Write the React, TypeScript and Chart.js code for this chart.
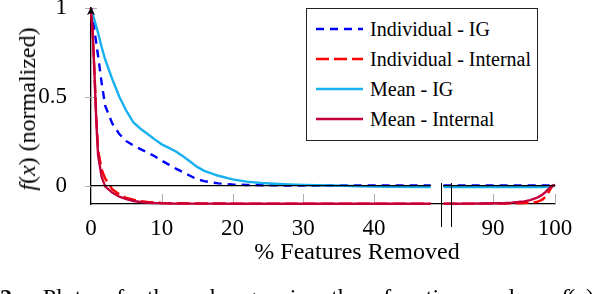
import React, { useEffect, useRef } from "react";
import { Chart, registerables } from "chart.js";

Chart.register(...registerables);

const FONT = "'Liberation Serif', Tinos, 'Times New Roman', 'DejaVu Serif', serif";

// ---- series meta ----
const seriesNames = ["Individual - IG", "Individual - Internal", "Mean - IG", "Mean - Internal"];
const seriesColors = ["#0000ff", "#ff0000", "#18b0ee", "#c4003c"];
const seriesDashes: number[][] = [[8, 6], [13, 5], [], []];
const seriesWidths = [2.4, 2.4, 2.4, 2.4];

// ---- axis settings ----
const yMin = -0.104;
const yMax = 1;
const yTicks = [0, 0.5, 1];
const leftXMin = 0;
const leftXMax = 49.6;
const leftXTicks = [0, 10, 20, 30, 40];
const rightXMin = 81.9;
const rightXMax = 100;
const rightXTicks = [90, 100];

// ---- data: left part (0 – 48 %) ----
const leftX = [0, 0.25, 0.5, 0.75, 1, 1.5, 2, 3, 4, 5, 6, 7, 8, 9, 10, 11, 12, 13, 14, 15, 16, 17, 18, 20, 22, 24, 26, 28, 30, 34, 38, 42, 48];
const indivIGLeft = [1, 0.94, 0.87, 0.8, 0.73, 0.58, 0.45, 0.35, 0.29, 0.25, 0.225, 0.205, 0.185, 0.165, 0.14, 0.118, 0.095, 0.075, 0.055, 0.035, 0.025, 0.018, 0.012, 0.006, 0.003, 0.002, 0.001, 0, 0, 0, 0, 0, 0];
const indivInternalLeft = [1, 0.86, 0.63, 0.38, 0.2, 0.09, 0.04, -0.02, -0.05, -0.07, -0.08, -0.088, -0.093, -0.096, -0.098, -0.099, -0.1, -0.1, -0.101, -0.101, -0.101, -0.101, -0.101, -0.102, -0.102, -0.102, -0.102, -0.102, -0.102, -0.102, -0.102, -0.102, -0.102];
const meanIGLeft = [1, 0.965, 0.93, 0.895, 0.86, 0.78, 0.71, 0.6, 0.5, 0.42, 0.355, 0.32, 0.29, 0.26, 0.232, 0.212, 0.192, 0.165, 0.135, 0.105, 0.083, 0.068, 0.055, 0.035, 0.022, 0.014, 0.01, 0.006, 0.003, 0, -0.004, -0.007, -0.008];
const meanInternalLeft = [1, 0.85, 0.62, 0.36, 0.17, 0.05, -0.005, -0.04, -0.063, -0.077, -0.087, -0.093, -0.097, -0.099, -0.1, -0.101, -0.102, -0.102, -0.102, -0.102, -0.102, -0.102, -0.102, -0.103, -0.103, -0.103, -0.103, -0.103, -0.103, -0.103, -0.103, -0.103, -0.103];

// ---- data: right part (82 – 100 %) ----
const rightX = [82, 84, 86, 88, 90, 92, 93, 94, 95, 96, 97, 97.5, 98, 98.5, 99, 99.5, 100];
const indivIGRight = [0, 0, 0, 0, 0, 0, 0, 0, 0, 0, 0, 0, 0, 0, 0, 0, 0];
const indivInternalRight = [-0.102, -0.102, -0.102, -0.102, -0.102, -0.101, -0.1, -0.1, -0.099, -0.097, -0.093, -0.087, -0.078, -0.062, -0.036, -0.008, 0.004];
const meanIGRight = [-0.008, -0.008, -0.008, -0.008, -0.008, -0.008, -0.008, -0.008, -0.008, -0.008, -0.008, -0.008, -0.008, -0.007, -0.006, -0.003, 0];
const meanInternalRight = [-0.103, -0.103, -0.102, -0.101, -0.1, -0.098, -0.096, -0.093, -0.089, -0.082, -0.07, -0.061, -0.05, -0.036, -0.018, -0.002, 0.004];

// ---- zero reference line spans ----
const zeroLeftSpan = [0, 48];
const zeroRightSpan = [81.9, 100];

const innerTicksPlugin = {
  id: "innerTicks",
  beforeDatasetsDraw(chart: any, _args: any, opts: any) {
    const { ctx, chartArea } = chart;
    const xs = chart.scales.x;
    const ys = chart.scales.y;
    ctx.save();
    ctx.strokeStyle = "#b0b0b0";
    ctx.lineWidth = 1;
    ctx.beginPath();
    xs.ticks.forEach((t: any) => {
      const px = Math.round(xs.getPixelForValue(t.value)) + 0.5;
      if (Math.abs(px - chartArea.left) < 2) return;
      ctx.moveTo(px, chartArea.bottom);
      ctx.lineTo(px, chartArea.bottom - 10);
    });
    if (opts.yTicks) {
      ys.ticks.forEach((t: any) => {
        const py = Math.round(ys.getPixelForValue(t.value)) + 0.5;
        ctx.moveTo(chartArea.left - 6, py);
        ctx.lineTo(t.value === 0 ? chartArea.left : chartArea.left + 6, py);
      });
    }
    ctx.stroke();
    ctx.restore();
  },
  afterDraw(chart: any, _args: any, opts: any) {
    if (!opts.arrow) return;
    const { ctx, chartArea } = chart;
    const x = chartArea.left;
    const y = chartArea.top;
    ctx.save();
    ctx.fillStyle = "#000";
    ctx.beginPath();
    ctx.moveTo(x, y - 1);
    ctx.lineTo(x - 4, y + 7);
    ctx.lineTo(x, y + 5);
    ctx.lineTo(x + 4, y + 7);
    ctx.closePath();
    ctx.fill();
    ctx.restore();
  },
};

function buildConfig(
  xs: number[],
  ys: number[][],
  xMin: number,
  xMax: number,
  xTicks: number[],
  zeroSpan: number[],
  isLeft: boolean
): any {
  const datasets: any[] = [
    {
      label: "zero",
      data: zeroSpan.map((x) => ({ x, y: 0 })),
      borderColor: "#000",
      borderWidth: 1.2,
      order: 0,
    },
    ...ys.map((vals, i) => ({
      label: seriesNames[i],
      data: xs.map((x, j) => ({ x, y: vals[j] })),
      borderColor: seriesColors[i],
      borderWidth: seriesWidths[i],
      borderDash: seriesDashes[i],
      order: 4 - i,
    })),
  ].map((d) => ({ ...d, pointRadius: 0, tension: 0, fill: false, clip: 6, borderCapStyle: "butt" }));

  const tickFont = { family: FONT, size: 23, lineHeight: 1.2 };

  return {
    type: "line",
    data: { datasets },
    plugins: [innerTicksPlugin],
    options: {
      responsive: false,
      animation: false,
      devicePixelRatio: 1,
      events: [],
      layout: {
        padding: isLeft ? { top: 8, right: 1, left: 0, bottom: 0 } : { top: 8, right: 39, left: 10, bottom: 0 },
      },
      plugins: {
        legend: { display: false },
        tooltip: { enabled: false },
        innerTicks: { yTicks: isLeft, arrow: isLeft },
      },
      scales: {
        x: {
          type: "linear",
          min: xMin,
          max: xMax,
          afterBuildTicks: (s: any) => {
            s.ticks = xTicks.map((v) => ({ value: v }));
          },
          afterFit: (s: any) => {
            s.height = 90;
            s.paddingLeft = 0;
            s.paddingRight = 0;
          },
          grid: { display: false },
          border: { display: true, color: "#000", width: 1.3 },
          ticks: {
            color: "#000",
            font: tickFont,
            padding: 3,
            maxRotation: 0,
            autoSkip: false,
            callback: (v: any) => String(v),
          },
        },
        y: {
          type: "linear",
          min: yMin,
          max: yMax,
          display: isLeft,
          afterBuildTicks: (s: any) => {
            s.ticks = yTicks.map((v) => ({ value: v }));
          },
          afterFit: (s: any) => {
            if (isLeft) {
              s.width = 91;
            }
            s.paddingTop = 0;
            s.paddingBottom = 0;
          },
          grid: { display: false },
          border: { display: true, color: "#000", width: 1.3 },
          ticks: {
            color: "#000",
            font: tickFont,
            padding: 16,
            autoSkip: false,
            callback: (v: any) => String(v),
          },
        },
      },
    },
  };
}

export default function App() {
  const leftRef = useRef<HTMLCanvasElement>(null);
  const rightRef = useRef<HTMLCanvasElement>(null);

  useEffect(() => {
    const left = new Chart(
      leftRef.current as HTMLCanvasElement,
      buildConfig(leftX, [indivIGLeft, indivInternalLeft, meanIGLeft, meanInternalLeft], leftXMin, leftXMax, leftXTicks, zeroLeftSpan, true)
    );
    const right = new Chart(
      rightRef.current as HTMLCanvasElement,
      buildConfig(rightX, [indivIGRight, indivInternalRight, meanIGRight, meanInternalRight], rightXMin, rightXMax, rightXTicks, zeroRightSpan, false)
    );
    return () => {
      left.destroy();
      right.destroy();
    };
  }, []);

  return (
    <div
      style={{
        position: "fixed",
        left: 0,
        top: 0,
        width: 594,
        height: 294,
        background: "#fff",
        overflow: "hidden",
        fontFamily: FONT,
        color: "#000",
      }}
    >
      <canvas ref={leftRef} width={443} height={294} style={{ position: "absolute", left: 0, top: 0, width: 443, height: 294 }} />
      <canvas ref={rightRef} width={161} height={294} style={{ position: "absolute", left: 433, top: 0, width: 161, height: 294 }} />

      {/* axis break marks */}
      <div style={{ position: "absolute", left: 441, top: 183, width: 1.4, height: 44, background: "#000" }} />
      <div style={{ position: "absolute", left: 451, top: 183, width: 1.4, height: 44, background: "#000" }} />

      {/* y-axis title */}
      <div
        style={{
          position: "absolute",
          left: 27,
          top: 109,
          transform: "translate(-50%, -50%) rotate(-90deg)",
          whiteSpace: "nowrap",
          fontSize: 24,
          lineHeight: 1,
        }}
      >
        <i>f</i>(<i>x</i>) (normalized)
      </div>

      {/* x-axis title */}
      <div
        style={{
          position: "absolute",
          left: 357,
          top: 251,
          transform: "translate(-50%, -50%)",
          whiteSpace: "nowrap",
          fontSize: 24,
          lineHeight: 1,
        }}
      >
        % Features Removed
      </div>

      {/* legend */}
      <div
        style={{
          position: "absolute",
          left: 306,
          top: 8,
          width: 232,
          height: 133,
          border: "1px solid #222",
          boxSizing: "border-box",
          background: "#fff",
        }}
      >
        {seriesNames.map((n, i) => (
          <div
            key={n}
            style={{ position: "absolute", left: 0, top: 5 + i * 30, height: 30, display: "flex", alignItems: "center", whiteSpace: "nowrap" }}
          >
            <svg width={58} height={30} style={{ display: "block" }}>
              <line
                x1={9}
                x2={56}
                y1={15}
                y2={15}
                stroke={seriesColors[i]}
                strokeWidth={2.4}
                strokeDasharray={seriesDashes[i].length ? seriesDashes[i].join(" ") : undefined}
              />
            </svg>
            <span style={{ fontSize: 20, marginLeft: 5, lineHeight: 1 }}>{n}</span>
          </div>
        ))}
      </div>

      {/* figure caption (cut off at bottom) */}
      <div
        style={{
          position: "absolute",
          left: 0,
          top: 285,
          width: 594,
          fontSize: 24,
          lineHeight: 1,
          whiteSpace: "nowrap",
          textAlign: "justify",
          textAlignLast: "justify" as any,
        }}
      >
        <b>2:</b> Plot of the change in the function value <i>f</i>(<i>x</i>)
      </div>
    </div>
  );
}
